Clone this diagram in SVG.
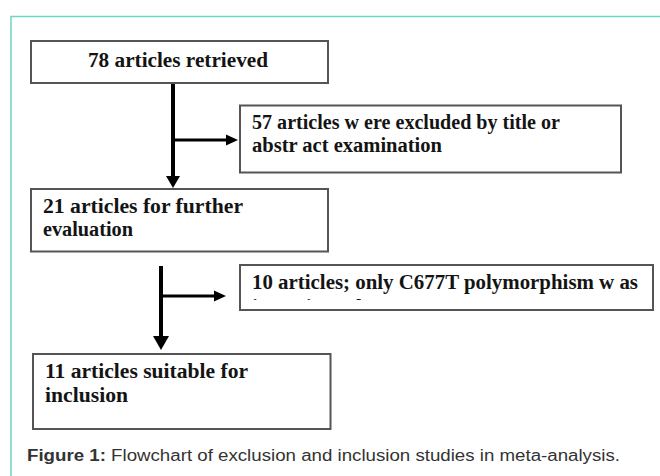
<svg xmlns="http://www.w3.org/2000/svg" width="660" height="476" viewBox="0 0 660 476">
<defs>
<style>
.box{fill:#fff;stroke:#555;stroke-width:2}
.t{font-family:"Liberation Serif","Times New Roman",serif;font-weight:bold;font-size:20px;fill:#141414}
.ln{stroke:#000;fill:none}
.ah{fill:#000}
.cap{font-family:"Liberation Sans",Arial,sans-serif;font-size:16px;fill:#333}
</style>
<clipPath id="c4"><rect x="240" y="265" width="413" height="35"/></clipPath>
</defs>
<rect width="660" height="476" fill="#fff"/>
<path d="M11,476 V16.5 H660" fill="none" stroke="#6dd5c3" stroke-width="1.5"/>
<g id="connectors">
<line class="ln" x1="173" y1="83" x2="173" y2="177" stroke-width="4"/>
<polygon class="ah" points="166,176 180,176 173,188"/>
<line class="ln" x1="173" y1="140" x2="227" y2="140" stroke-width="3"/>
<polygon class="ah" points="226,134.5 238,140 226,145.5"/>
<line class="ln" x1="161" y1="266" x2="161" y2="337" stroke-width="4"/>
<polygon class="ah" points="153,336 169,336 161,350"/>
<line class="ln" x1="161" y1="296" x2="215" y2="296" stroke-width="3"/>
<polygon class="ah" points="214,290.5 226,296 214,301.5"/>
</g>
<g id="n1">
<rect class="box" x="31" y="41" width="297" height="42"/>
<text class="t" x="88" y="67" textLength="180" lengthAdjust="spacingAndGlyphs">78 articles retrieved</text>
</g>
<g id="n2">
<rect class="box" x="240" y="105.5" width="381" height="67"/>
<text class="t" x="252" y="129" textLength="308" lengthAdjust="spacingAndGlyphs">57 articles w ere excluded by title or</text>
<text class="t" x="252" y="152" textLength="190" lengthAdjust="spacingAndGlyphs">abstr act examination</text>
</g>
<g id="n3">
<rect class="box" x="31" y="189" width="297" height="62.5"/>
<text class="t" x="43" y="213" textLength="200" lengthAdjust="spacingAndGlyphs">21 articles for further</text>
<text class="t" x="43" y="236" textLength="90" lengthAdjust="spacingAndGlyphs">evaluation</text>
</g>
<g id="n4">
<rect class="box" x="240" y="265" width="413" height="45"/>
<g clip-path="url(#c4)">
<text class="t" x="252" y="289" textLength="386" lengthAdjust="spacingAndGlyphs">10 articles; only C677T polymorphism w as</text>
<text class="t" x="252" y="314" textLength="110" lengthAdjust="spacingAndGlyphs">investigated</text>
</g>
</g>
<g id="n5">
<rect class="box" x="33" y="354" width="297.5" height="75"/>
<text class="t" x="45" y="378" textLength="203" lengthAdjust="spacingAndGlyphs">11 articles suitable for</text>
<text class="t" x="45" y="402" textLength="83" lengthAdjust="spacingAndGlyphs">inclusion</text>
</g>
<text class="cap" x="27" y="461" textLength="593" lengthAdjust="spacingAndGlyphs"><tspan font-weight="bold">Figure 1:</tspan> Flowchart of exclusion and inclusion studies in meta-analysis.</text>
</svg>
